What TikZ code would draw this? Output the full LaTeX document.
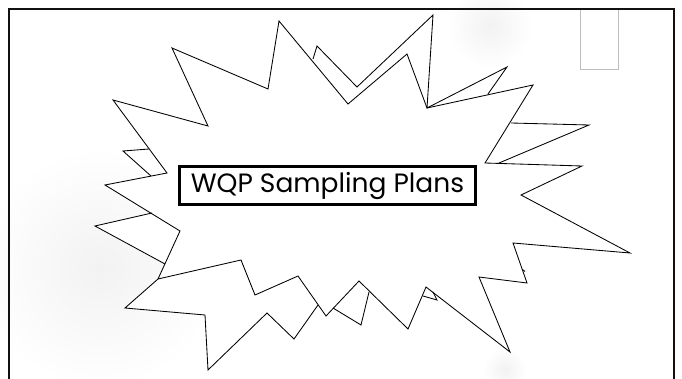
\documentclass[tikz,border=0pt]{standalone}
\usepackage{fontspec}
\setmainfont{Poppins}
\usetikzlibrary{positioning}
\definecolor{BurstInk}{HTML}{000000}
\definecolor{FrameInk}{HTML}{111111}
\definecolor{TabGray}{HTML}{BDBDBD}
\definecolor{SmudgeGray}{HTML}{F2F2F2}
\tikzset{
  every node/.style={text=BurstInk},
  frame/.style={draw=FrameInk, line width=2.6pt},
  burst/.style={draw=BurstInk, line width=0.85pt, line join=miter, fill=white},
  burstback/.style={draw=BurstInk, line width=0.85pt, line join=miter},
  tab/.style={draw=TabGray, line width=0.7pt},
  titlebox/.style={draw=BurstInk, line width=2.2pt, fill=white, inner sep=0pt,
    minimum width=296pt, minimum height=38pt, font=\fontsize{26.5}{30}\selectfont},
}
\begin{document}
\begin{tikzpicture}[x=1pt,y=-1pt]
  \useasboundingbox (0,0) rectangle (682,379);
  % faint smudges behind the burst
  \shade[inner color=SmudgeGray, outer color=white] (100,268) circle (120);
  \shade[inner color=SmudgeGray, outer color=white] (490,26) circle (42);
  \shade[inner color=SmudgeGray, outer color=white] (505,370) circle (22);
  \draw[tab] (580,9) rectangle (618,69);
  % outline of both bursts together, to clear the smudges
  \fill[white] (279,21) -- (313,59) -- (317,46) -- (357,87) -- (433,15) -- (427,108)
    -- (507,67) -- (488,94) -- (533,85) -- (511,123) -- (589,125) -- (499,163)
    -- (582,166) -- (521,195) -- (630,253) -- (513,243) -- (527,283) -- (479,277)
    -- (510,352) -- (433,292) -- (437,300) -- (423,296) -- (408,329) -- (369,292)
    -- (361,325) -- (333,308) -- (326,316) -- (318,305) -- (294,339) -- (267,313)
    -- (208,370) -- (205,315) -- (125,308) -- (158,279) -- (165,264) -- (95,226)
    -- (152,213) -- (105,185) -- (151,176) -- (123,151) -- (149,149) -- (113,100)
    -- (208,126) -- (172,48) -- (268,89) -- cycle;
  % front burst
  \draw[burst] (279,21) -- (348,104) -- (407,54) -- (427,108) -- (533,85) -- (485,163)
    -- (582,166) -- (521,195) -- (630,253) -- (513,243) -- (527,283) -- (479,277)
    -- (510,352) -- (426,287) -- (408,329) -- (359,281) -- (326,316) -- (298,276)
    -- (255,295) -- (241,260) -- (158,279) -- (180,231) -- (105,185) -- (167,173)
    -- (113,100) -- (208,126) -- (172,48) -- (268,89) -- cycle;
  % back burst, only where it shows
  \draw[burstback] (313,59) -- (317,46) -- (357,87) -- (433,15) -- (427,108) -- (507,67) -- (488,94);
  \draw[burstback] (511,123) -- (589,125) -- (499,163);
  \draw[burstback] (522.5,269.5) -- (525,271.5);
  \draw[burstback] (433,292) -- (437,300) -- (423,296);
  \draw[burstback] (369,292) -- (361,325) -- (333,308);
  \draw[burstback] (318,305) -- (294,339) -- (267,313) -- (208,370) -- (205,315) -- (125,308) -- (158,279);
  \draw[burstback] (165,264) -- (95,226) -- (152,213);
  \draw[burstback] (151,176) -- (123,151) -- (149,149);
  \node[titlebox] (title) at (327.5,185.5) {WQP Sampling Plans};
  % slide frame, open at the bottom
  \draw[frame] (9,390) -- (9,9) -- (674,9) -- (674,390);
\end{tikzpicture}
\end{document}
